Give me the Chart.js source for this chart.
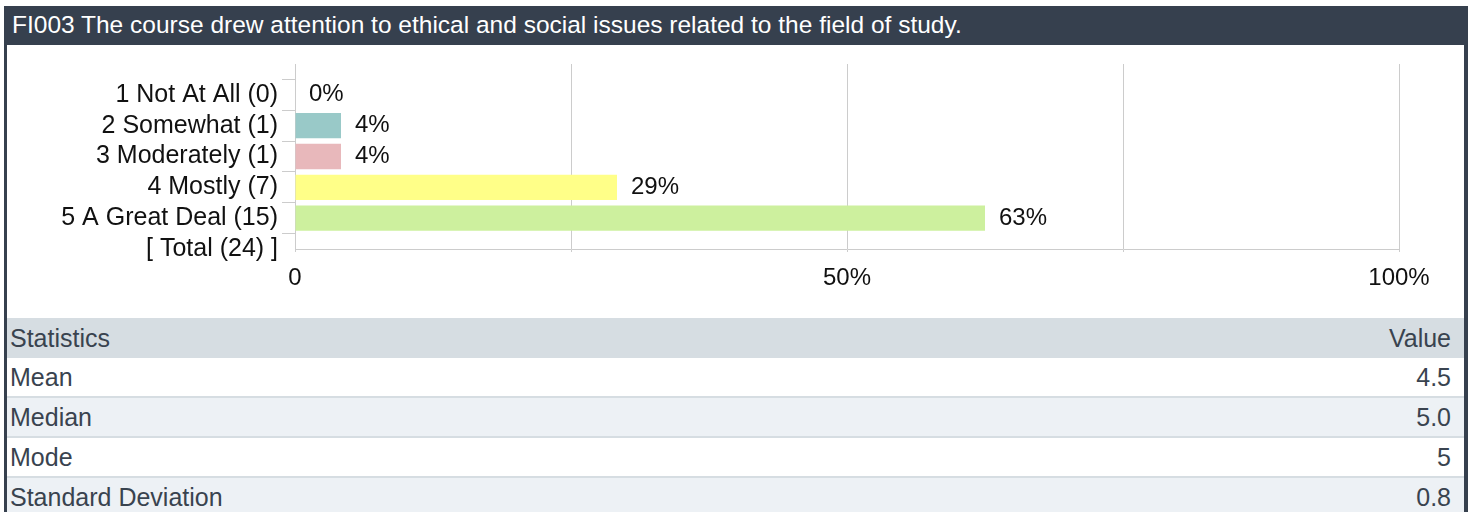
<!DOCTYPE html>
<html>
<head>
<meta charset="utf-8">
<script src="https://cdn.jsdelivr.net/npm/chart.js@4.4.0/dist/chart.umd.min.js"></script>
<style>
  body { margin: 0; background: #fff; font-family: "Liberation Sans", Arial, sans-serif; }
  .frame { position: absolute; left: 4px; top: 6px; width: 1457px; height: 520px;
           border-left: 3px solid #36404e; border-right: 4px solid #36404e; }
  .title { background: #36404e; color: #fff; font-size: 24.5px; height: 39px; line-height: 38px;
           padding-left: 5px; white-space: nowrap; }
  .chartbox { position: relative; width: 1457px; height: 273px; }
  table { width: 100%; border-collapse: collapse; font-size: 25px; color: #39434f; }
  td { height: 38px; padding: 0 13px 0 3px; border-bottom: 2px solid #d6dde2; }
  td.v { text-align: right; }
  tr.head td { background: #d6dde2; height: 40px; border-bottom: 0; }
  tr.alt td { background: #edf1f5; }
</style>
</head>
<body>
<div class="frame">
  <div class="title">FI003 The course drew attention to ethical and social issues related to the field of study.</div>
  <div class="chartbox"><canvas id="chart"></canvas></div>
  <table id="stats"></table>
</div>
<script>
// categorie della scala (la prima vuota serve da spazio in alto)
var labels = ['', '1 Not At All (0)', '2 Somewhat (1)', '3 Moderately (1)', '4 Mostly (7)', '5 A Great Deal (15)', '[ Total (24) ]'];
var counts = [null, 0, 1, 1, 7, 15, null];
var total = 24;
var colors = ['#fff', '#fff', '#99c9c8', '#e8b8bb', '#ffff88', '#cdf09e', '#fff'];
var xTicks = ['0', '', '50%', '', '100%'];

// tabella statistiche
var statNames = ['Mean', 'Median', 'Mode', 'Standard Deviation'];
var statValues = ['4.5', '5.0', '5', '0.8'];

var fontFamily = '"Liberation Sans", Arial, sans-serif';

// plugin per scrivere la percentuale dopo la barra
var valueLabels = {
  id: 'valueLabels',
  afterDatasetsDraw: function (chart) {
    var ctx = chart.ctx;
    var meta = chart.getDatasetMeta(0);
    var data = chart.data.datasets[0].data;
    ctx.save();
    ctx.font = '24px ' + fontFamily;
    ctx.fillStyle = '#111';
    ctx.textBaseline = 'middle';
    meta.data.forEach(function (bar, i) {
      if (data[i] === null) return;
      ctx.fillText(Math.round(data[i]) + '%', bar.x + 14, bar.y);
    });
    ctx.restore();
  }
};

function init() {
  printTable();
  printChart();
}

function printTable() {
  var html = '<tr class="head"><td>Statistics</td><td class="v">Value</td></tr>';
  for (var i = 0; i < statNames.length; i++) {
    html += '<tr class="' + (i % 2 ? 'alt' : '') + '"><td>' + statNames[i] + '</td><td class="v">' + statValues[i] + '</td></tr>';
  }
  document.getElementById('stats').innerHTML = html;
}

// percentuali dai conteggi
function getPercents() {
  return counts.map(function (c) { return c === null ? null : c / total * 100; });
}

function printChart() {
  var ctx = document.getElementById('chart').getContext('2d');
  var myChart = new Chart(ctx, {
    type: 'bar',
    data: {
      labels: labels,
      datasets: [{
        data: getPercents(),
        backgroundColor: colors,
        categoryPercentage: 1,
        barPercentage: 0.82
      }]
    },
    options: {
      indexAxis: 'y',
      responsive: true,
      maintainAspectRatio: false,
      animation: false,
      layout: { padding: { top: 18, right: 65, left: 0, bottom: 0 } },
      plugins: { legend: { display: false }, tooltip: { enabled: false } },
      scales: {
        x: {
          min: 0,
          max: 100,
          ticks: {
            stepSize: 25,
            color: '#111',
            padding: 12,
            maxRotation: 0,
            font: { size: 24, family: fontFamily },
            callback: function (v, i) { return xTicks[i]; }
          },
          grid: { color: '#cccccc', tickLength: 3 },
          border: { color: '#cccccc' },
          afterFit: function (scale) { scale.height = 69; }
        },
        y: {
          offset: false,
          ticks: {
            color: '#111',
            padding: 4,
            autoSkip: false,
            font: { size: 25, family: fontFamily }
          },
          grid: {
            drawOnChartArea: false,
            tickLength: 13,
            color: function (c) { return c.index === 0 ? 'rgba(0,0,0,0)' : '#cccccc'; }
          },
          border: { color: '#cccccc' },
          afterFit: function (scale) { scale.width = 288; }
        }
      }
    },
    plugins: [valueLabels]
  });
}

init();
</script>
</body>
</html>
